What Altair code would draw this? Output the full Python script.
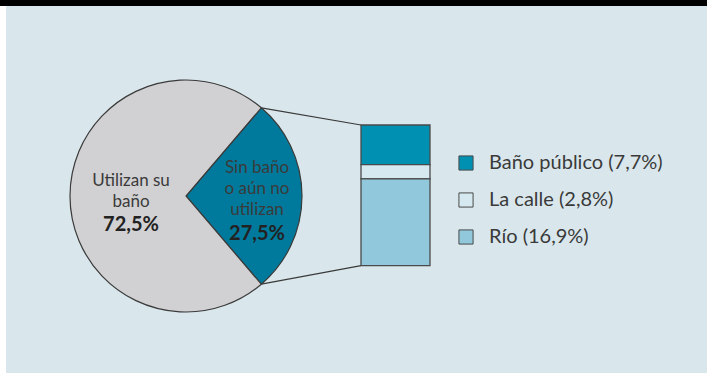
import math
import altair as alt
import pandas as pd

# ---- data ----
pie_labels = ["Sin baño o aún no utilizan", "Utilizan su baño"]
pie_values = [27.5, 72.5]
pie_order = [0, 1]

bar_names = ["Baño público", "La calle", "Río"]
bar_values = [7.7, 2.8, 16.9]
bar_order = [0, 1, 2]

pie_text_left = ["Utilizan su", "baño"]
pie_pct_left = "72,5%"
pie_text_right = ["Sin baño", "o aún no", "utilizan"]
pie_pct_right = "27,5%"

def fmt(v):
    return f"{v:.1f}".replace(".", ",")

bar_labels = [f"{n} ({fmt(v)}%)" for n, v in zip(bar_names, bar_values)]

pie_df = pd.DataFrame({"label": pie_labels, "value": pie_values, "order": pie_order})
bar_df = pd.DataFrame({"label": bar_labels, "value": bar_values, "order": bar_order, "grp": ["b"] * 3})

# ---- layout ----
W, H = 707, 374
FONT = "Lato"
cx, cy, R = 186, 196, 116
offset = math.radians(40.5)
bar_x0, bar_x1 = 361, 430
bar_y0, bar_y1 = 125, 265.7
total = sum(bar_values)

panel_color = "#d9e7ec"
pie_colors = ["#007a9c", "#d1d1d3"]
bar_colors = ["#0091b2", "#d6e8f0", "#92c8dc"]

base = alt.Chart(pd.DataFrame({"a": [0]}))

black_bar = base.mark_rect(color="#000000").encode(
    x=alt.value(0), x2=alt.value(W), y=alt.value(0), y2=alt.value(6))
panel = base.mark_rect(color=panel_color).encode(
    x=alt.value(6), x2=alt.value(W), y=alt.value(6), y2=alt.value(373))

pie = alt.Chart(pie_df).mark_arc(radius=R, stroke="#3a3a3a", strokeWidth=1.2).encode(
    theta=alt.Theta("value:Q", stack=True,
                    scale=alt.Scale(domain=[0, 100], range=[offset, offset + 2 * math.pi])),
    color=alt.Color("label:N", scale=alt.Scale(domain=pie_labels, range=pie_colors), legend=None),
    order=alt.Order("order:Q"),
    x=alt.value(cx), y=alt.value(cy),
)

# connector lines from pie slice edges to bar corners
frac = pie_values[0] / 100.0
a0 = offset
a1 = offset + frac * 2 * math.pi
p0 = (cx + R * math.sin(a0), cy - R * math.cos(a0))
p1 = (cx + R * math.sin(a1), cy - R * math.cos(a1))
line1 = base.mark_rule(color="#3a3a3a", strokeWidth=1.2).encode(
    x=alt.value(p0[0]), y=alt.value(p0[1]), x2=alt.value(bar_x0), y2=alt.value(bar_y0))
line2 = base.mark_rule(color="#3a3a3a", strokeWidth=1.2).encode(
    x=alt.value(p1[0]), y=alt.value(p1[1]), x2=alt.value(bar_x0), y2=alt.value(bar_y1))

bar = alt.Chart(bar_df).mark_bar(stroke="#4a4a4a", strokeWidth=1.3).encode(
    x=alt.X("grp:N", axis=None,
            scale=alt.Scale(range=[bar_x0, bar_x1], paddingInner=0, paddingOuter=0)),
    y=alt.Y("value:Q", stack=True, axis=None,
            scale=alt.Scale(domain=[0, total], range=[bar_y0, bar_y1])),
    order=alt.Order("order:Q"),
    color=alt.Color("label:N", scale=alt.Scale(domain=bar_labels, range=bar_colors),
                    sort=bar_labels,
                    legend=alt.Legend(
                        title=None, orient="none", legendX=456, legendY=153,
                        symbolType="square", symbolSize=200, symbolStrokeColor="#4a4a4a",
                        symbolStrokeWidth=1, symbolOpacity=1,
                        labelFont=FONT, labelFontSize=20, labelColor="#3a3a3a",
                        labelLimit=0,
                        labelOffset=13, rowPadding=17, padding=0)),
)

txt_style = dict(font=FONT, fontSize=17, color="#3a3a3a", align="center", baseline="alphabetic", lineHeight=21)
left_txt = base.mark_text(**txt_style).encode(
    x=alt.value(131), y=alt.value(186), text=alt.value(pie_text_left))
left_pct = base.mark_text(font=FONT, fontSize=20, fontWeight="bold", color="#222222",
                          align="center", baseline="alphabetic").encode(
    x=alt.value(131), y=alt.value(231), text=alt.value(pie_pct_left))
right_txt = base.mark_text(**txt_style).encode(
    x=alt.value(257), y=alt.value(173), text=alt.value(pie_text_right))
right_pct = base.mark_text(font=FONT, fontSize=20, fontWeight="bold", color="#222222",
                           align="center", baseline="alphabetic").encode(
    x=alt.value(257), y=alt.value(240), text=alt.value(pie_pct_right))

chart = alt.layer(
    black_bar, panel, line1, line2, pie, bar, left_txt, left_pct, right_txt, right_pct
).resolve_scale(color="independent").properties(
    width=W, height=H, padding=0, autosize=alt.AutoSizeParams(type="none"),
    background="#ffffff"
).configure_view(stroke=None)

chart.save("out.html", embed_options={"renderer": "svg", "actions": False})
